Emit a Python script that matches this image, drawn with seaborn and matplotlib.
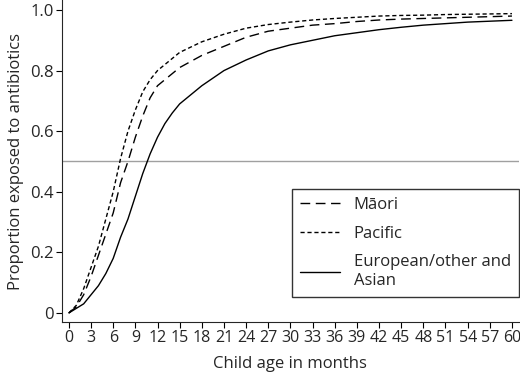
import pandas as pd
import numpy as np
import matplotlib.pyplot as plt
import seaborn as sns

months = [0, 1, 2, 3, 4, 5, 6, 7, 8, 9, 10, 11, 12, 13, 14, 15, 18, 21, 24,
          27, 30, 33, 36, 39, 42, 45, 48, 51, 54, 57, 60]
maori = [0, 0.02, 0.06, 0.12, 0.19, 0.26, 0.33, 0.43, 0.5, 0.58, 0.65, 0.71, 0.75,
         0.77, 0.79, 0.81, 0.85, 0.88, 0.91, 0.93, 0.94, 0.95, 0.955, 0.962,
         0.967, 0.97, 0.972, 0.974, 0.976, 0.978, 0.98]
pacific = [0, 0.025, 0.08, 0.15, 0.22, 0.31, 0.4, 0.51, 0.6, 0.67, 0.73, 0.77, 0.8,
           0.82, 0.84, 0.86, 0.895, 0.92, 0.94, 0.952, 0.96, 0.967, 0.972, 0.976,
           0.98, 0.982, 0.983, 0.985, 0.986, 0.987, 0.988]
european = [0, 0.015, 0.03, 0.06, 0.09, 0.13, 0.18, 0.25, 0.31, 0.385, 0.46, 0.525,
            0.58, 0.625, 0.66, 0.69, 0.75, 0.8, 0.835, 0.865, 0.885, 0.9, 0.915,
            0.925, 0.935, 0.943, 0.95, 0.955, 0.96, 0.963, 0.966]
labels = ["Māori", "Pacific", "European/other and\nAsian"]
xticks = list(range(0, 61, 3))

sns.set_style("ticks")
plt.rcParams["font.family"] = ["Open Sans", "DejaVu Sans"]

fig = plt.figure(figsize=(5.2, 3.74), dpi=100)
ax = fig.add_axes([0.119, 0.139, 0.879, 0.861])

ax.axhline(0.5, color="#a0a0a0", lw=1)
sns.lineplot(x=months, y=maori, ax=ax, color="black", lw=1, label=labels[0],
             linestyle=(0, (7, 4)))
sns.lineplot(x=months, y=pacific, ax=ax, color="black", lw=1, label=labels[1],
             linestyle=(0, (3, 2)))
sns.lineplot(x=months, y=european, ax=ax, color="black", lw=1, label=labels[2])

ax.set_xlim(-0.95, 60.95)
ax.set_ylim(-0.03, 1.033)
ax.set_xticks(xticks)
ax.set_yticks([0, 0.2, 0.4, 0.6, 0.8, 1.0])
ax.set_yticklabels(["0", "0.2", "0.4", "0.6", "0.8", "1.0"])
ax.tick_params(labelsize=12, length=4, color="black", pad=2)
ax.tick_params(axis="x", labelsize=11.5)
ax.set_xlabel("Child age in months", fontsize=12, labelpad=7)
ax.set_ylabel("Proportion exposed to antibiotics", fontsize=12)
sns.despine(ax=ax)

leg = ax.legend(loc="lower right", bbox_to_anchor=(1.0, 0.078), fontsize=12,
                frameon=True, fancybox=False, edgecolor="black", handlelength=2.4,
                borderpad=0.5, labelspacing=0.75, handletextpad=0.8,
                borderaxespad=0)
leg.get_frame().set_linewidth(1)

fig.savefig("out.png", dpi=100)
